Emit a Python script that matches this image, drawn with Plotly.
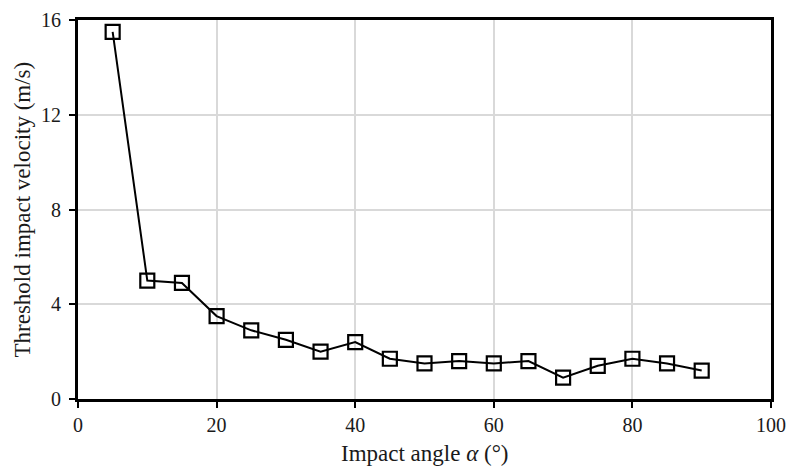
import plotly.graph_objects as go

# Impact angle (degrees) and threshold impact velocity (m/s)
angle = [5, 10, 15, 20, 25, 30, 35, 40, 45, 50, 55, 60, 65, 70, 75, 80, 85, 90]
velocity = [15.5, 5.0, 4.9, 3.5, 2.9, 2.5, 2.0, 2.4, 1.7, 1.5, 1.6, 1.5, 1.6, 0.9, 1.4, 1.7, 1.5, 1.2]

x_ticks = [0, 20, 40, 60, 80, 100]
y_ticks = [0, 4, 8, 12, 16]

FONT = "Liberation Serif, Times New Roman, serif"
TEXT = "#1a1a1a"

fig = go.Figure()
fig.add_trace(go.Scatter(
    x=angle, y=velocity,
    mode="lines+markers",
    line=dict(color="black", width=2),
    marker=dict(symbol="square-open", size=14, color="black", line=dict(width=2.2)),
    showlegend=False,
))

axis_common = dict(
    showgrid=True, gridcolor="#d9d9d9", gridwidth=2,
    showline=True, linecolor="black", linewidth=3, mirror=True,
    ticks="outside", ticklen=6, tickwidth=2, tickcolor="black",
    zeroline=False, automargin=False,
    tickfont=dict(family=FONT, size=20, color=TEXT),
)

fig.update_layout(
    width=787, height=468,
    margin=dict(l=78, r=16, t=20, b=69),
    paper_bgcolor="white", plot_bgcolor="white",
    font=dict(family=FONT, size=20, color=TEXT),
    xaxis=dict(range=[0, 100], tickvals=x_ticks, **axis_common),
    yaxis=dict(range=[0, 16], tickvals=y_ticks, ticklabelstandoff=4, **axis_common),
)

# Axis titles
fig.add_annotation(
    text="Impact angle <i>α</i> (°)", xref="paper", yref="paper",
    x=0.5, y=0, xanchor="center", yanchor="middle", yshift=-54,
    showarrow=False,
    font=dict(family=FONT, size=23, color=TEXT),
)
fig.add_annotation(
    text="Threshold impact velocity (m/s)", xref="paper", yref="paper",
    x=0, y=0.5, xanchor="center", yanchor="middle", xshift=-56,
    textangle=-90, showarrow=False,
    font=dict(family=FONT, size=23, color=TEXT),
)

fig.write_html("out.html")
